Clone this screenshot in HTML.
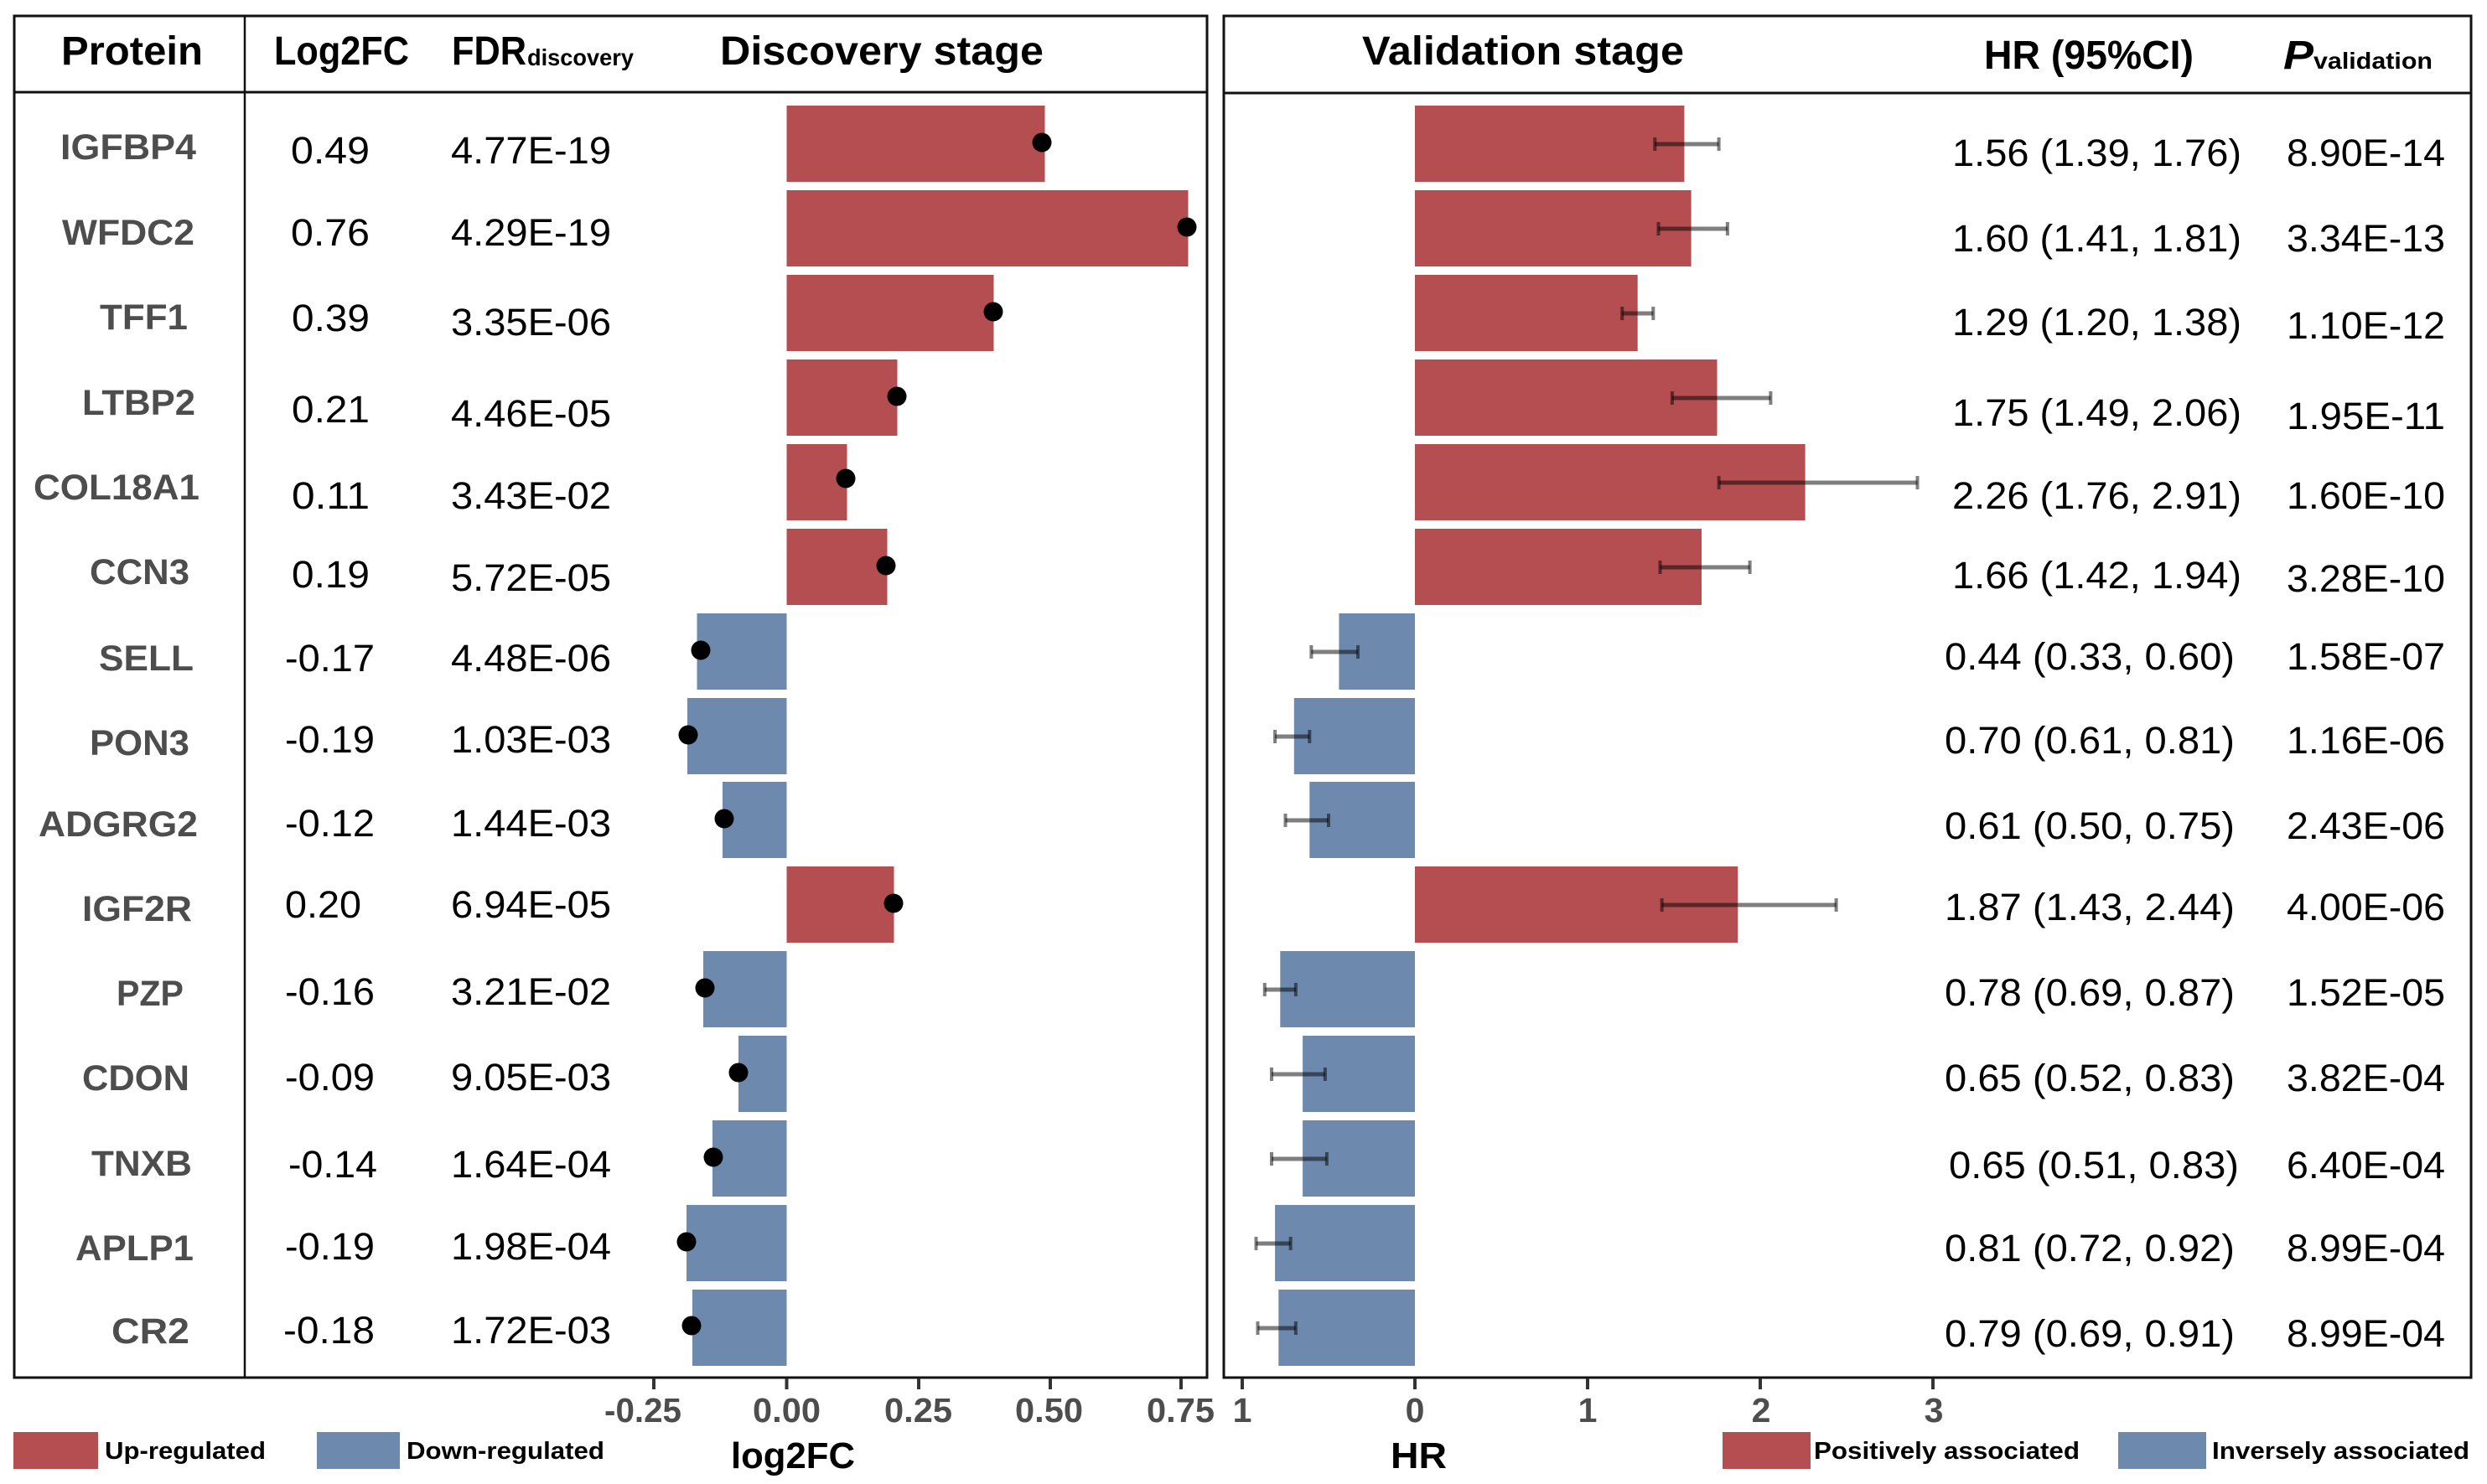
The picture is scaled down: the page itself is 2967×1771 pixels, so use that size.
<!DOCTYPE html>
<html>
<head>
<meta charset="utf-8">
<style>
html,body{margin:0;padding:0;background:#fff;}
svg{display:block;}
text{font-family:"Liberation Sans",Arial,sans-serif;}
.pn{font-weight:bold;fill:#4d4d4d;font-size:43px;}
.num{fill:#000;font-size:45px;}
.hd{font-weight:bold;fill:#000;font-size:48px;}
.sub{font-weight:bold;fill:#000;font-size:28px;}
.tk{font-weight:bold;fill:#4d4d4d;font-size:41px;}
.lg{font-weight:bold;fill:#000;font-size:29px;}
.ax{font-weight:bold;fill:#000;font-size:44px;}
</style>
</head>
<body>
<svg width="2967" height="1771" viewBox="0 0 2967 1771" xmlns="http://www.w3.org/2000/svg">
<rect x="0" y="0" width="2967" height="1771" fill="#fff"/>

<!-- Discovery bars -->
<g>
<rect x="938.5" y="126" width="308" height="91" fill="#B54E50"/>
<rect x="938.5" y="227" width="479" height="91" fill="#B54E50"/>
<rect x="938.5" y="328" width="247" height="91" fill="#B54E50"/>
<rect x="938.5" y="429" width="132" height="91" fill="#B54E50"/>
<rect x="938.5" y="530" width="72" height="91" fill="#B54E50"/>
<rect x="938.5" y="631" width="120" height="91" fill="#B54E50"/>
<rect x="831.5" y="732" width="107" height="91" fill="#6D89AE"/>
<rect x="820" y="833" width="118.5" height="91" fill="#6D89AE"/>
<rect x="862" y="933" width="76.5" height="91" fill="#6D89AE"/>
<rect x="938.5" y="1034" width="128" height="91" fill="#B54E50"/>
<rect x="839" y="1135" width="99.5" height="91" fill="#6D89AE"/>
<rect x="881" y="1236" width="57.5" height="91" fill="#6D89AE"/>
<rect x="850" y="1337" width="88.5" height="91" fill="#6D89AE"/>
<rect x="819" y="1438" width="119.5" height="91" fill="#6D89AE"/>
<rect x="826" y="1539" width="112.5" height="91" fill="#6D89AE"/>
</g>
<!-- Dots -->
<g fill="#000">
<circle cx="1243" cy="170" r="11.5"/>
<circle cx="1416" cy="271" r="11.5"/>
<circle cx="1185" cy="372" r="11.5"/>
<circle cx="1070" cy="473" r="11.5"/>
<circle cx="1009" cy="571" r="11.5"/>
<circle cx="1057" cy="675" r="11.5"/>
<circle cx="836" cy="776" r="11.5"/>
<circle cx="821" cy="877" r="11.5"/>
<circle cx="864" cy="977" r="11.5"/>
<circle cx="1066" cy="1078" r="11.5"/>
<circle cx="841" cy="1179" r="11.5"/>
<circle cx="881" cy="1280" r="11.5"/>
<circle cx="851" cy="1381" r="11.5"/>
<circle cx="819" cy="1482" r="11.5"/>
<circle cx="825" cy="1582" r="11.5"/>
</g>

<!-- Validation bars -->
<g>
<rect x="1688" y="126" width="321.4" height="91" fill="#B54E50"/>
<rect x="1688" y="227" width="329.6" height="91" fill="#B54E50"/>
<rect x="1688" y="328" width="265.7" height="91" fill="#B54E50"/>
<rect x="1688" y="429" width="360.5" height="91" fill="#B54E50"/>
<rect x="1688" y="530" width="465.6" height="91" fill="#B54E50"/>
<rect x="1688" y="631" width="342" height="91" fill="#B54E50"/>
<rect x="1597.4" y="732" width="90.6" height="91" fill="#6D89AE"/>
<rect x="1543.8" y="833" width="144.2" height="91" fill="#6D89AE"/>
<rect x="1562.3" y="933" width="125.7" height="91" fill="#6D89AE"/>
<rect x="1688" y="1034" width="385.2" height="91" fill="#B54E50"/>
<rect x="1527.3" y="1135" width="160.7" height="91" fill="#6D89AE"/>
<rect x="1554.1" y="1236" width="133.9" height="91" fill="#6D89AE"/>
<rect x="1554.1" y="1337" width="133.9" height="91" fill="#6D89AE"/>
<rect x="1521.1" y="1438" width="166.9" height="91" fill="#6D89AE"/>
<rect x="1525.3" y="1539" width="162.7" height="91" fill="#6D89AE"/>
</g>

<!-- Error bars -->
<g stroke="#000" stroke-opacity="0.5" fill="none">
<g stroke-width="5">
<line x1="1974.3" y1="172" x2="2050.6" y2="172"/>
<line x1="1978.5" y1="273" x2="2060.9" y2="273"/>
<line x1="1935.2" y1="374" x2="1972.3" y2="374"/>
<line x1="1994.9" y1="475" x2="2112.4" y2="475"/>
<line x1="2050.6" y1="576" x2="2287.5" y2="576"/>
<line x1="1980.5" y1="677" x2="2087.6" y2="677"/>
<line x1="1564.4" y1="778" x2="1620" y2="778"/>
<line x1="1521.1" y1="879" x2="1562.3" y2="879"/>
<line x1="1533.5" y1="979" x2="1585" y2="979"/>
<line x1="1982.6" y1="1080" x2="2190.6" y2="1080"/>
<line x1="1508.8" y1="1181" x2="1545.9" y2="1181"/>
<line x1="1517" y1="1282" x2="1580.9" y2="1282"/>
<line x1="1517" y1="1383" x2="1582.9" y2="1383"/>
<line x1="1498.5" y1="1484" x2="1539.7" y2="1484"/>
<line x1="1500.5" y1="1585" x2="1545.9" y2="1585"/>
</g>
<g stroke-width="4">
<line x1="1974.3" y1="164" x2="1974.3" y2="180"/><line x1="2050.6" y1="164" x2="2050.6" y2="180"/>
<line x1="1978.5" y1="265" x2="1978.5" y2="281"/><line x1="2060.9" y1="265" x2="2060.9" y2="281"/>
<line x1="1935.2" y1="366" x2="1935.2" y2="382"/><line x1="1972.3" y1="366" x2="1972.3" y2="382"/>
<line x1="1994.9" y1="467" x2="1994.9" y2="483"/><line x1="2112.4" y1="467" x2="2112.4" y2="483"/>
<line x1="2050.6" y1="568" x2="2050.6" y2="584"/><line x1="2287.5" y1="568" x2="2287.5" y2="584"/>
<line x1="1980.5" y1="669" x2="1980.5" y2="685"/><line x1="2087.6" y1="669" x2="2087.6" y2="685"/>
<line x1="1564.4" y1="770" x2="1564.4" y2="786"/><line x1="1620" y1="770" x2="1620" y2="786"/>
<line x1="1521.1" y1="871" x2="1521.1" y2="887"/><line x1="1562.3" y1="871" x2="1562.3" y2="887"/>
<line x1="1533.5" y1="971" x2="1533.5" y2="987"/><line x1="1585" y1="971" x2="1585" y2="987"/>
<line x1="1982.6" y1="1072" x2="1982.6" y2="1088"/><line x1="2190.6" y1="1072" x2="2190.6" y2="1088"/>
<line x1="1508.8" y1="1173" x2="1508.8" y2="1189"/><line x1="1545.9" y1="1173" x2="1545.9" y2="1189"/>
<line x1="1517" y1="1274" x2="1517" y2="1290"/><line x1="1580.9" y1="1274" x2="1580.9" y2="1290"/>
<line x1="1517" y1="1375" x2="1517" y2="1391"/><line x1="1582.9" y1="1375" x2="1582.9" y2="1391"/>
<line x1="1498.5" y1="1476" x2="1498.5" y2="1492"/><line x1="1539.7" y1="1476" x2="1539.7" y2="1492"/>
<line x1="1500.5" y1="1577" x2="1500.5" y2="1593"/><line x1="1545.9" y1="1577" x2="1545.9" y2="1593"/>
</g>
</g>

<!-- Panel frames -->
<g stroke="#111" fill="none">
<rect x="17" y="19" width="1423" height="1625" stroke-width="3"/>
<line x1="17" y1="110" x2="1440" y2="110" stroke-width="3"/>
<line x1="292" y1="19" x2="292" y2="1644" stroke-width="2.5"/>
<rect x="1460" y="19" width="1488" height="1625" stroke-width="3"/>
<line x1="1460" y1="111" x2="2948" y2="111" stroke-width="3"/>
</g>

<!-- Ticks -->
<g stroke="#333" stroke-width="4">
<line x1="780" y1="1645" x2="780" y2="1658"/>
<line x1="938.5" y1="1645" x2="938.5" y2="1658"/>
<line x1="1096" y1="1645" x2="1096" y2="1658"/>
<line x1="1253" y1="1645" x2="1253" y2="1658"/>
<line x1="1409" y1="1645" x2="1409" y2="1658"/>
<line x1="1482" y1="1645" x2="1482" y2="1658"/>
<line x1="1688" y1="1645" x2="1688" y2="1658"/>
<line x1="1894" y1="1645" x2="1894" y2="1658"/>
<line x1="2100" y1="1645" x2="2100" y2="1658"/>
<line x1="2306" y1="1645" x2="2306" y2="1658"/>
</g>

<!-- Headers -->
<text class="hd" x="73" y="77" textLength="169" lengthAdjust="spacingAndGlyphs">Protein</text>
<text class="hd" x="327" y="77" textLength="161" lengthAdjust="spacingAndGlyphs">Log2FC</text>
<text class="hd" x="539" y="77" textLength="89" lengthAdjust="spacingAndGlyphs">FDR</text>
<text class="sub" x="629" y="78" textLength="127" lengthAdjust="spacingAndGlyphs">discovery</text>
<text class="hd" x="859" y="77" textLength="386" lengthAdjust="spacingAndGlyphs">Discovery stage</text>
<text class="hd" x="1625" y="77" textLength="384" lengthAdjust="spacingAndGlyphs">Validation stage</text>
<text class="hd" x="2367" y="82" textLength="250" lengthAdjust="spacingAndGlyphs">HR (95%CI)</text>
<text class="hd" x="2724" y="82" font-style="italic" textLength="36" lengthAdjust="spacingAndGlyphs">P</text>
<text class="sub" x="2760" y="82" textLength="142" lengthAdjust="spacingAndGlyphs">validation</text>

<!-- Protein names -->
<g class="pn">
<text class="pn" x="72" y="190" textLength="162" lengthAdjust="spacingAndGlyphs">IGFBP4</text>
<text class="pn" x="74" y="292" textLength="158" lengthAdjust="spacingAndGlyphs">WFDC2</text>
<text class="pn" x="119" y="393" textLength="105" lengthAdjust="spacingAndGlyphs">TFF1</text>
<text class="pn" x="98" y="495" textLength="135" lengthAdjust="spacingAndGlyphs">LTBP2</text>
<text class="pn" x="40" y="596" textLength="198" lengthAdjust="spacingAndGlyphs">COL18A1</text>
<text class="pn" x="107" y="697" textLength="119" lengthAdjust="spacingAndGlyphs">CCN3</text>
<text class="pn" x="118" y="800" textLength="113" lengthAdjust="spacingAndGlyphs">SELL</text>
<text class="pn" x="107" y="901" textLength="119" lengthAdjust="spacingAndGlyphs">PON3</text>
<text class="pn" x="46" y="998" textLength="190" lengthAdjust="spacingAndGlyphs">ADGRG2</text>
<text class="pn" x="98" y="1099" textLength="131" lengthAdjust="spacingAndGlyphs">IGF2R</text>
<text class="pn" x="139" y="1200" textLength="80" lengthAdjust="spacingAndGlyphs">PZP</text>
<text class="pn" x="98" y="1301" textLength="128" lengthAdjust="spacingAndGlyphs">CDON</text>
<text class="pn" x="109" y="1403" textLength="120" lengthAdjust="spacingAndGlyphs">TNXB</text>
<text class="pn" x="90" y="1504" textLength="141" lengthAdjust="spacingAndGlyphs">APLP1</text>
<text class="pn" x="133" y="1603" textLength="93" lengthAdjust="spacingAndGlyphs">CR2</text>
</g>

<!-- Log2FC values -->
<text class="num" x="347" y="195" textLength="94" lengthAdjust="spacingAndGlyphs">0.49</text>
<text class="num" x="347" y="293" textLength="94" lengthAdjust="spacingAndGlyphs">0.76</text>
<text class="num" x="348" y="395" textLength="93" lengthAdjust="spacingAndGlyphs">0.39</text>
<text class="num" x="348" y="504" textLength="93" lengthAdjust="spacingAndGlyphs">0.21</text>
<text class="num" x="348" y="607" textLength="93" lengthAdjust="spacingAndGlyphs">0.11</text>
<text class="num" x="348" y="701" textLength="93" lengthAdjust="spacingAndGlyphs">0.19</text>
<text class="num" x="340" y="801" textLength="107" lengthAdjust="spacingAndGlyphs">-0.17</text>
<text class="num" x="340" y="898" textLength="107" lengthAdjust="spacingAndGlyphs">-0.19</text>
<text class="num" x="340" y="998" textLength="107" lengthAdjust="spacingAndGlyphs">-0.12</text>
<text class="num" x="340" y="1095" textLength="91" lengthAdjust="spacingAndGlyphs">0.20</text>
<text class="num" x="340" y="1199" textLength="107" lengthAdjust="spacingAndGlyphs">-0.16</text>
<text class="num" x="340" y="1301" textLength="107" lengthAdjust="spacingAndGlyphs">-0.09</text>
<text class="num" x="344" y="1405" textLength="106" lengthAdjust="spacingAndGlyphs">-0.14</text>
<text class="num" x="340" y="1503" textLength="107" lengthAdjust="spacingAndGlyphs">-0.19</text>
<text class="num" x="338" y="1603" textLength="109" lengthAdjust="spacingAndGlyphs">-0.18</text>

<!-- FDR values -->
<g>
<text class="num" x="538" y="195" textLength="191" lengthAdjust="spacingAndGlyphs">4.77E-19</text>
<text class="num" x="538" y="293" textLength="191" lengthAdjust="spacingAndGlyphs">4.29E-19</text>
<text class="num" x="538" y="400" textLength="191" lengthAdjust="spacingAndGlyphs">3.35E-06</text>
<text class="num" x="538" y="509" textLength="191" lengthAdjust="spacingAndGlyphs">4.46E-05</text>
<text class="num" x="538" y="607" textLength="191" lengthAdjust="spacingAndGlyphs">3.43E-02</text>
<text class="num" x="538" y="705" textLength="191" lengthAdjust="spacingAndGlyphs">5.72E-05</text>
<text class="num" x="538" y="801" textLength="191" lengthAdjust="spacingAndGlyphs">4.48E-06</text>
<text class="num" x="538" y="898" textLength="191" lengthAdjust="spacingAndGlyphs">1.03E-03</text>
<text class="num" x="538" y="998" textLength="191" lengthAdjust="spacingAndGlyphs">1.44E-03</text>
<text class="num" x="538" y="1095" textLength="191" lengthAdjust="spacingAndGlyphs">6.94E-05</text>
<text class="num" x="538" y="1199" textLength="191" lengthAdjust="spacingAndGlyphs">3.21E-02</text>
<text class="num" x="538" y="1301" textLength="191" lengthAdjust="spacingAndGlyphs">9.05E-03</text>
<text class="num" x="538" y="1405" textLength="191" lengthAdjust="spacingAndGlyphs">1.64E-04</text>
<text class="num" x="538" y="1503" textLength="191" lengthAdjust="spacingAndGlyphs">1.98E-04</text>
<text class="num" x="538" y="1603" textLength="191" lengthAdjust="spacingAndGlyphs">1.72E-03</text>
</g>

<!-- HR text -->
<g>
<text class="num" x="2329" y="198" textLength="345" lengthAdjust="spacingAndGlyphs">1.56 (1.39, 1.76)</text>
<text class="num" x="2329" y="300" textLength="345" lengthAdjust="spacingAndGlyphs">1.60 (1.41, 1.81)</text>
<text class="num" x="2329" y="400" textLength="345" lengthAdjust="spacingAndGlyphs">1.29 (1.20, 1.38)</text>
<text class="num" x="2329" y="508" textLength="345" lengthAdjust="spacingAndGlyphs">1.75 (1.49, 2.06)</text>
<text class="num" x="2329" y="607" textLength="345" lengthAdjust="spacingAndGlyphs">2.26 (1.76, 2.91)</text>
<text class="num" x="2329" y="702" textLength="345" lengthAdjust="spacingAndGlyphs">1.66 (1.42, 1.94)</text>
<text class="num" x="2320" y="799" textLength="346" lengthAdjust="spacingAndGlyphs">0.44 (0.33, 0.60)</text>
<text class="num" x="2320" y="899" textLength="346" lengthAdjust="spacingAndGlyphs">0.70 (0.61, 0.81)</text>
<text class="num" x="2320" y="1001" textLength="346" lengthAdjust="spacingAndGlyphs">0.61 (0.50, 0.75)</text>
<text class="num" x="2320" y="1098" textLength="346" lengthAdjust="spacingAndGlyphs">1.87 (1.43, 2.44)</text>
<text class="num" x="2320" y="1200" textLength="346" lengthAdjust="spacingAndGlyphs">0.78 (0.69, 0.87)</text>
<text class="num" x="2320" y="1302" textLength="346" lengthAdjust="spacingAndGlyphs">0.65 (0.52, 0.83)</text>
<text class="num" x="2325" y="1406" textLength="346" lengthAdjust="spacingAndGlyphs">0.65 (0.51, 0.83)</text>
<text class="num" x="2320" y="1505" textLength="346" lengthAdjust="spacingAndGlyphs">0.81 (0.72, 0.92)</text>
<text class="num" x="2320" y="1607" textLength="346" lengthAdjust="spacingAndGlyphs">0.79 (0.69, 0.91)</text>
</g>

<!-- P values -->
<g>
<text class="num" x="2728" y="198" textLength="189" lengthAdjust="spacingAndGlyphs">8.90E-14</text>
<text class="num" x="2728" y="300" textLength="189" lengthAdjust="spacingAndGlyphs">3.34E-13</text>
<text class="num" x="2728" y="404" textLength="189" lengthAdjust="spacingAndGlyphs">1.10E-12</text>
<text class="num" x="2728" y="512" textLength="189" lengthAdjust="spacingAndGlyphs">1.95E-11</text>
<text class="num" x="2728" y="607" textLength="189" lengthAdjust="spacingAndGlyphs">1.60E-10</text>
<text class="num" x="2728" y="706" textLength="189" lengthAdjust="spacingAndGlyphs">3.28E-10</text>
<text class="num" x="2728" y="799" textLength="189" lengthAdjust="spacingAndGlyphs">1.58E-07</text>
<text class="num" x="2728" y="899" textLength="189" lengthAdjust="spacingAndGlyphs">1.16E-06</text>
<text class="num" x="2728" y="1001" textLength="189" lengthAdjust="spacingAndGlyphs">2.43E-06</text>
<text class="num" x="2728" y="1098" textLength="189" lengthAdjust="spacingAndGlyphs">4.00E-06</text>
<text class="num" x="2728" y="1200" textLength="189" lengthAdjust="spacingAndGlyphs">1.52E-05</text>
<text class="num" x="2728" y="1302" textLength="189" lengthAdjust="spacingAndGlyphs">3.82E-04</text>
<text class="num" x="2728" y="1406" textLength="189" lengthAdjust="spacingAndGlyphs">6.40E-04</text>
<text class="num" x="2728" y="1505" textLength="189" lengthAdjust="spacingAndGlyphs">8.99E-04</text>
<text class="num" x="2728" y="1607" textLength="189" lengthAdjust="spacingAndGlyphs">8.99E-04</text>
</g>

<!-- Tick labels -->
<text class="tk" x="721" y="1697" textLength="92" lengthAdjust="spacingAndGlyphs">-0.25</text>
<text class="tk" x="898" y="1697" textLength="81" lengthAdjust="spacingAndGlyphs">0.00</text>
<text class="tk" x="1055" y="1697" textLength="81" lengthAdjust="spacingAndGlyphs">0.25</text>
<text class="tk" x="1211" y="1697" textLength="81" lengthAdjust="spacingAndGlyphs">0.50</text>
<text class="tk" x="1368" y="1697" textLength="81" lengthAdjust="spacingAndGlyphs">0.75</text>
<text class="tk" x="1482" y="1697" text-anchor="middle">1</text>
<text class="tk" x="1688" y="1697" text-anchor="middle">0</text>
<text class="tk" x="1894" y="1697" text-anchor="middle">1</text>
<text class="tk" x="2101" y="1697" text-anchor="middle">2</text>
<text class="tk" x="2307" y="1697" text-anchor="middle">3</text>

<!-- Axis titles -->
<text class="ax" x="872" y="1752" textLength="148" lengthAdjust="spacingAndGlyphs">log2FC</text>
<text class="ax" x="1659" y="1752" textLength="67" lengthAdjust="spacingAndGlyphs">HR</text>

<!-- Legends -->
<rect x="16" y="1709" width="101" height="44" fill="#B54E50"/>
<text class="lg" x="125" y="1741" textLength="192" lengthAdjust="spacingAndGlyphs">Up-regulated</text>
<rect x="378" y="1709" width="99" height="44" fill="#6D89AE"/>
<text class="lg" x="485" y="1741" textLength="236" lengthAdjust="spacingAndGlyphs">Down-regulated</text>
<rect x="2055" y="1709" width="105" height="44" fill="#B54E50"/>
<text class="lg" x="2164" y="1741" textLength="317" lengthAdjust="spacingAndGlyphs">Positively associated</text>
<rect x="2527" y="1709" width="105" height="44" fill="#6D89AE"/>
<text class="lg" x="2639" y="1741" textLength="307" lengthAdjust="spacingAndGlyphs">Inversely associated</text>
</svg>
</body>
</html>
